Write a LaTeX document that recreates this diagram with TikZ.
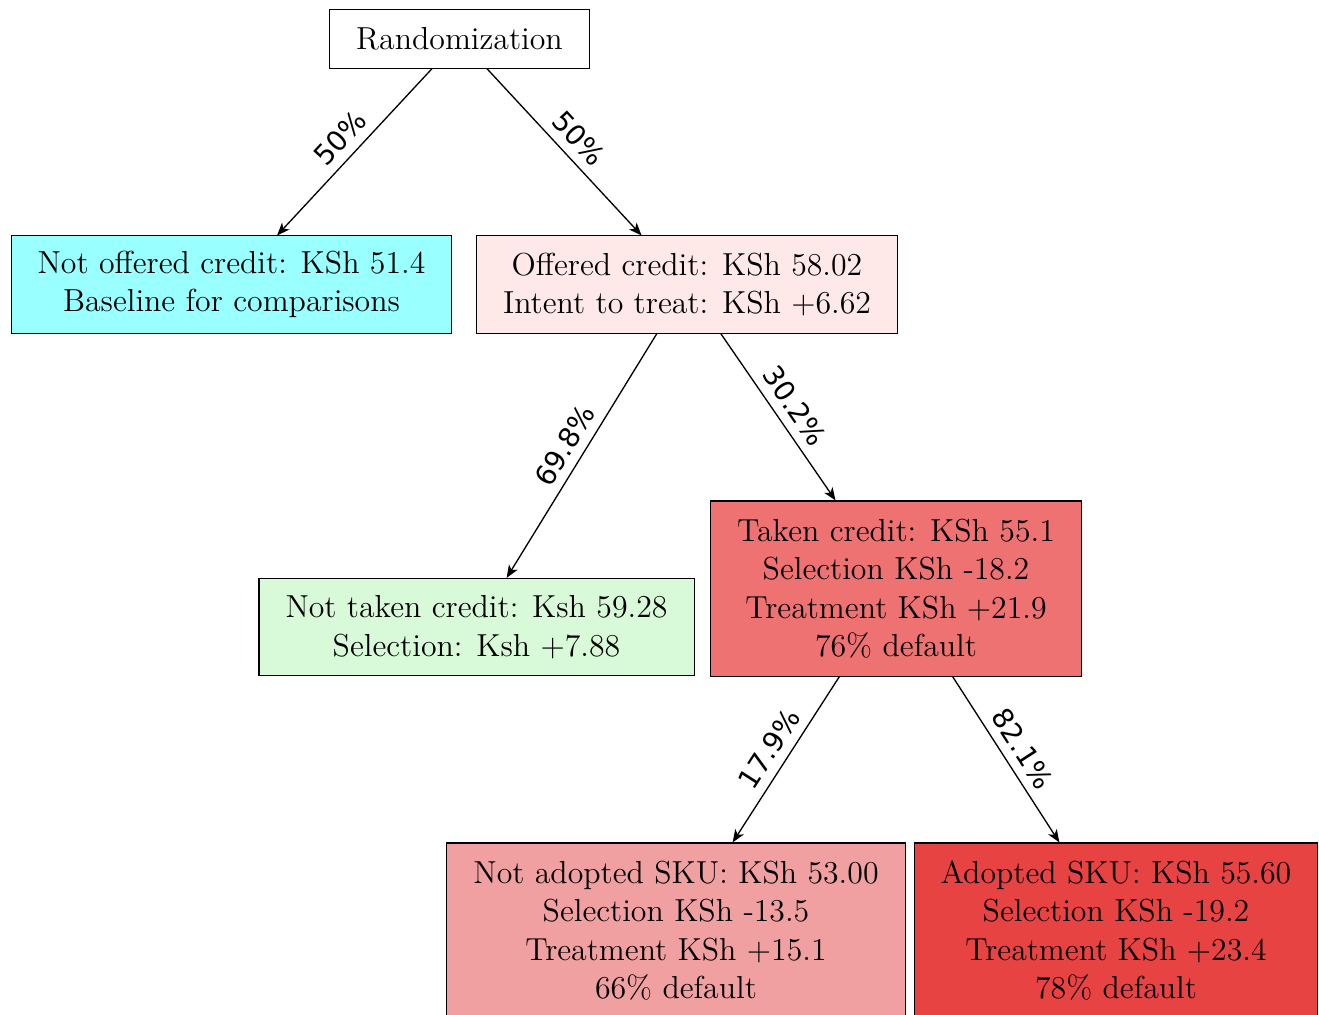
\documentclass[tikz,border=0pt]{standalone}
\usepackage{fontspec}
\usetikzlibrary{arrows.meta}
\newfontfamily\labfont{DejaVu Sans}
\definecolor{cNoff}{RGB}{153,255,255}
\definecolor{cOff}{RGB}{255,232,232}
\definecolor{cNtak}{RGB}{217,250,217}
\definecolor{cTak}{RGB}{238,114,114}
\definecolor{cNadp}{RGB}{240,160,160}
\definecolor{cAdp}{RGB}{232,67,67}
\begin{document}
\begin{tikzpicture}[x=0.377pt,y=-0.377pt,
  box/.style={draw, align=center, inner xsep=10pt, inner ysep=5.3pt,
    font=\fontsize{12}{14.5}\selectfont},
  one/.style={box, minimum height=21.9pt},
  two/.style={box, minimum height=36.6pt},
  four/.style={box, minimum height=66pt},
  arr/.style={-{Stealth[length=4.8pt,width=3.8pt,inset=1.3pt]}, line width=0.5pt},
  lab/.style={font=\labfont\fontsize{10.5}{12}\selectfont, sloped, above, midway}]
\useasboundingbox (0,0) rectangle (1319,1014);
\node[one] (rand) at (459.5,39) {Randomization};
\node[two, fill=cNoff] (noff) at (231.5,284.5) {Not offered credit: KSh 51.4\\Baseline for comparisons};
\node[two, fill=cOff] (off) at (687,284.5) {Offered credit: KSh 58.02\\Intent to treat: KSh +6.62};
\node[two, fill=cNtak] (ntak) at (476.5,627) {Not taken credit: Ksh 59.28\\Selection: Ksh +7.88};
\node[four, fill=cTak] (tak) at (896,588.5) {Taken credit: KSh 55.1\\Selection KSh -18.2\\Treatment KSh +21.9\\76\% default};
\node[four, fill=cNadp] (nadp) at (676,930.5) {Not adopted SKU: KSh 53.00\\Selection KSh -13.5\\Treatment KSh +15.1\\66\% default};
\node[four, fill=cAdp] (adp) at (1116,930.5) {Adopted SKU: KSh 55.60\\Selection KSh -19.2\\Treatment KSh +23.4\\78\% default};
\draw[arr] (rand) -- node[lab] {50\%} (noff);
\draw[arr] (rand) -- node[lab] {50\%} (off);
\draw[arr] (off) -- node[lab] {69.8\%} (ntak);
\draw[arr] (off) -- node[lab] {30.2\%} (tak);
\draw[arr] (tak) -- node[lab] {17.9\%} (nadp);
\draw[arr] (tak) -- node[lab] {82.1\%} (adp);
\end{tikzpicture}
\end{document}
